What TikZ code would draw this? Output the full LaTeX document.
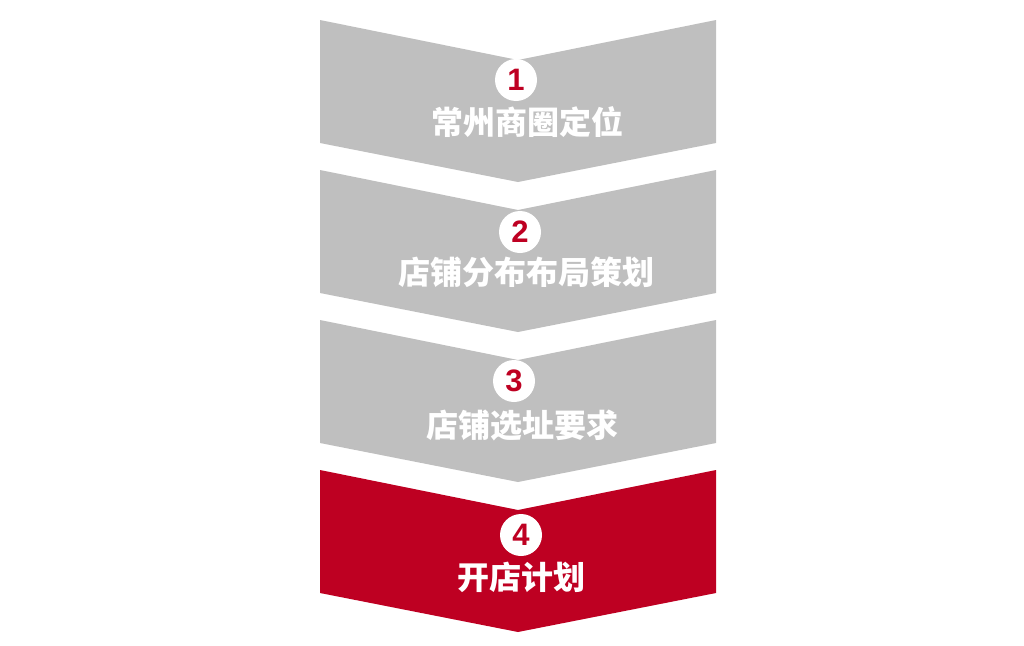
\documentclass[tikz,border=0pt]{standalone}
\usepackage{fontspec}
\setmainfont{Liberation Sans}
\newfontfamily\cjk{Noto Sans CJK SC}
\definecolor{stepgray}{RGB}{191,191,191}
\definecolor{stepred}{RGB}{190,0,34}
\tikzset{
  numdot/.style={circle,fill=white,minimum size=42pt,inner sep=0pt,text=stepred,font=\fontsize{31}{33}\selectfont\bfseries},
  steptext/.style={text=white,inner sep=0pt,font=\cjk\bfseries\fontsize{32}{35}\selectfont}
}
\begin{document}
\begin{tikzpicture}[x=1pt,y=-1pt]
            \useasboundingbox (0,0) rectangle (1024,645);
            \draw [fill = stepgray, draw = none] (320,20) -- (518,60) -- (716,20) -- (716,143) -- (518,182) -- (320,143) -- cycle;
            \draw [fill = stepgray, draw = none] (320,170) -- (518,210) -- (716,170) -- (716,293) -- (518,332) -- (320,293) -- cycle;
            \draw [fill = stepgray, draw = none] (320,320) -- (518,360) -- (716,320) -- (716,443) -- (518,482) -- (320,443) -- cycle;
            \draw [fill = stepred, draw = none] (320,470) -- (518,510) -- (716,470) -- (716,593) -- (518,632) -- (320,593) -- cycle;
            \node [numdot] (n1) at (516,80) {1};
            \node [steptext] (t1) at (527,122) {常州商圈定位};
            \node [numdot] (n2) at (520,232) {2};
            \node [steptext] (t2) at (526,272) {店铺分布布局策划};
            \node [numdot] (n3) at (514,381) {3};
            \node [steptext] (t3) at (522,425) {店铺选址要求};
            \node [numdot] (n4) at (521,535) {4};
            \node [steptext] (t4) at (521,577) {开店计划};
        \end{tikzpicture}
\end{document}
